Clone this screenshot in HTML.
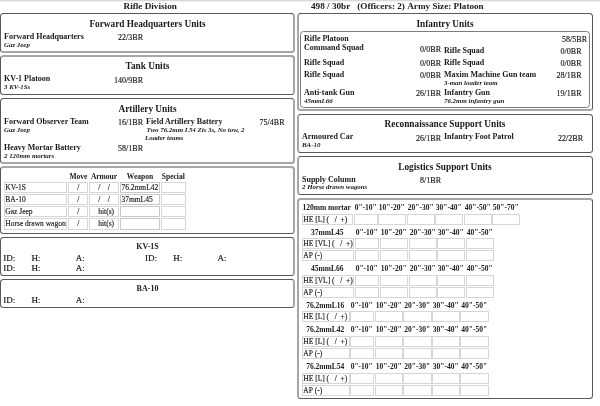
<!DOCTYPE html>
<html><head><meta charset="utf-8"><title>Rifle Division</title><style>
html,body{margin:0;padding:0;background:#fff;}
body{width:600px;height:406px;overflow:hidden;position:relative;font-family:"Liberation Serif","Times New Roman",serif;color:#1a1a1a;}
.t{position:absolute;line-height:1;white-space:nowrap;}
#w{position:absolute;left:0;top:0;width:600px;height:406px;}
.b{position:absolute;box-sizing:border-box;}
.c{position:absolute;box-sizing:border-box;border:1px solid #d6d6d6;}
</style></head>
<body><div id="w">
<div style="position:absolute;left:0;top:0;width:600px;height:1px;background:#d9d9d9"></div>
<div style="position:absolute;left:0;top:1px;width:600px;height:1px;background:#f2f2f2"></div>
<div class="t" style="top:2px;font-size:9.2px;font-weight:bold;left:123.5px;">Rifle Division</div>
<div class="t" style="top:2px;font-size:9.2px;font-weight:bold;left:311px;">498&nbsp;/&nbsp;30br&nbsp;&nbsp;&nbsp;(Officers:&nbsp;2)&nbsp;Army&nbsp;Size:&nbsp;Platoon</div>
<div class="b" style="left:0px;top:13px;width:295px;height:40px;border-top:1px solid #595959;border-right:2px solid #a6a6a6;border-bottom:2px solid #a6a6a6;border-left:1px solid #595959;border-radius:3.5px"></div>
<div class="t" style="top:20px;font-size:9.3px;font-weight:bold;left:-2.5px;width:300px;text-align:center;">Forward Headquarters Units</div>
<div class="t" style="top:33px;font-size:8px;font-weight:bold;left:4px;">Forward Headquarters</div>
<div class="t" style="top:34px;font-size:8px;-webkit-text-stroke:0.15px currentColor;right:457px;text-align:right;">22/3BR</div>
<div class="t" style="top:42px;font-size:6.9px;font-weight:bold;font-style:italic;left:4px;">Gaz Jeep</div>
<div class="b" style="left:0px;top:55px;width:295px;height:40px;border-top:2px solid #a6a6a6;border-right:2px solid #a6a6a6;border-bottom:1px solid #595959;border-left:1px solid #595959;border-radius:3.5px"></div>
<div class="t" style="top:62px;font-size:9.3px;font-weight:bold;left:-2.5px;width:300px;text-align:center;">Tank Units</div>
<div class="t" style="top:75px;font-size:8px;font-weight:bold;left:4px;">KV-1 Platoon</div>
<div class="t" style="top:77px;font-size:8px;-webkit-text-stroke:0.15px currentColor;right:457px;text-align:right;">140/9BR</div>
<div class="t" style="top:84px;font-size:6.9px;font-weight:bold;font-style:italic;left:4px;">3 KV-1Ss</div>
<div class="b" style="left:0px;top:98px;width:295px;height:66px;border-top:1px solid #595959;border-right:2px solid #a6a6a6;border-bottom:2px solid #a6a6a6;border-left:1px solid #595959;border-radius:3.5px"></div>
<div class="t" style="top:105px;font-size:9.3px;font-weight:bold;left:-2.5px;width:300px;text-align:center;">Artillery Units</div>
<div class="t" style="top:118px;font-size:8px;font-weight:bold;left:4px;">Forward Observer Team</div>
<div class="t" style="top:119px;font-size:8px;-webkit-text-stroke:0.15px currentColor;right:457px;text-align:right;">16/1BR</div>
<div class="t" style="top:127px;font-size:6.9px;font-weight:bold;font-style:italic;left:4px;">Gaz Jeep</div>
<div class="t" style="top:144px;font-size:8px;font-weight:bold;left:4px;">Heavy Mortar Battery</div>
<div class="t" style="top:145px;font-size:8px;-webkit-text-stroke:0.15px currentColor;right:457px;text-align:right;">58/1BR</div>
<div class="t" style="top:153px;font-size:6.9px;font-weight:bold;font-style:italic;left:4px;">2 120mm mortars</div>
<div class="t" style="top:118px;font-size:8px;font-weight:bold;left:146px;">Field Artillery Battery</div>
<div class="t" style="top:119px;font-size:8px;-webkit-text-stroke:0.15px currentColor;right:315.5px;text-align:right;">75/4BR</div>
<div class="t" style="top:127px;font-size:6.9px;font-weight:bold;font-style:italic;left:146.5px;">Two 76.2mm L54 Zis 3s, No tow, 2</div>
<div class="t" style="top:135px;font-size:6.9px;font-weight:bold;font-style:italic;left:145px;">Loader teams</div>
<div class="b" style="left:0px;top:166px;width:295px;height:68px;border-top:2px solid #a6a6a6;border-right:2px solid #a6a6a6;border-bottom:1px solid #595959;border-left:1px solid #595959;border-radius:3.5px"></div>
<div class="t" style="top:173px;font-size:7.5px;font-weight:bold;left:-71.6px;width:300px;text-align:center;">Move</div>
<div class="t" style="top:173px;font-size:7.5px;font-weight:bold;left:-46px;width:300px;text-align:center;">Armour</div>
<div class="t" style="top:173px;font-size:7.5px;font-weight:bold;left:-10px;width:300px;text-align:center;">Weapon</div>
<div class="t" style="top:173px;font-size:7.5px;font-weight:bold;left:23.30000000000001px;width:300px;text-align:center;">Special</div>
<div class="c" style="left:4px;top:182px;width:63px;height:11px;border-color:#d6d6d6"></div>
<div class="c" style="left:68px;top:182px;width:20px;height:11px;border-color:#d6d6d6"></div>
<div class="c" style="left:89px;top:182px;width:30px;height:11px;border-color:#d6d6d6"></div>
<div class="c" style="left:120px;top:182px;width:40px;height:11px;border-color:#c8c8c8"></div>
<div class="c" style="left:161px;top:182px;width:25px;height:11px;border-color:#d6d6d6"></div>
<div class="t" style="top:184px;font-size:7.5px;-webkit-text-stroke:0.15px currentColor;left:5.3px;">KV-1S</div>
<div class="t" style="top:184px;font-size:7.5px;-webkit-text-stroke:0.15px currentColor;left:-71.6px;width:300px;text-align:center;">/</div>
<div class="t" style="top:184px;font-size:7.5px;-webkit-text-stroke:0.15px currentColor;left:-46px;width:300px;text-align:center;">/&nbsp;&nbsp;&nbsp;&nbsp;/</div>
<div class="t" style="top:184px;font-size:7.5px;-webkit-text-stroke:0.15px currentColor;left:121.4px;">76.2mmL42</div>
<div class="c" style="left:4px;top:194px;width:63px;height:11px;border-color:#d6d6d6"></div>
<div class="c" style="left:68px;top:194px;width:20px;height:11px;border-color:#d6d6d6"></div>
<div class="c" style="left:89px;top:194px;width:30px;height:11px;border-color:#d6d6d6"></div>
<div class="c" style="left:120px;top:194px;width:40px;height:11px;border-color:#c8c8c8"></div>
<div class="c" style="left:161px;top:194px;width:25px;height:11px;border-color:#d6d6d6"></div>
<div class="t" style="top:196px;font-size:7.5px;-webkit-text-stroke:0.15px currentColor;left:5.3px;">BA-10</div>
<div class="t" style="top:196px;font-size:7.5px;-webkit-text-stroke:0.15px currentColor;left:-71.6px;width:300px;text-align:center;">/</div>
<div class="t" style="top:196px;font-size:7.5px;-webkit-text-stroke:0.15px currentColor;left:-46px;width:300px;text-align:center;">/&nbsp;&nbsp;&nbsp;&nbsp;/</div>
<div class="t" style="top:196px;font-size:7.5px;-webkit-text-stroke:0.15px currentColor;left:121.4px;">37mmL45</div>
<div class="c" style="left:4px;top:206px;width:63px;height:11px;border-color:#d6d6d6"></div>
<div class="c" style="left:68px;top:206px;width:20px;height:11px;border-color:#d6d6d6"></div>
<div class="c" style="left:89px;top:206px;width:30px;height:11px;border-color:#d6d6d6"></div>
<div class="c" style="left:120px;top:206px;width:40px;height:11px;border-color:#c8c8c8"></div>
<div class="c" style="left:161px;top:206px;width:25px;height:11px;border-color:#d6d6d6"></div>
<div class="t" style="top:208px;font-size:7.5px;-webkit-text-stroke:0.15px currentColor;left:5.3px;">Gaz Jeep</div>
<div class="t" style="top:208px;font-size:7.5px;-webkit-text-stroke:0.15px currentColor;left:-71.6px;width:300px;text-align:center;">/</div>
<div class="t" style="top:208px;font-size:7.5px;-webkit-text-stroke:0.15px currentColor;left:-43.8px;width:300px;text-align:center;">hit(s)</div>
<div class="c" style="left:4px;top:218px;width:63px;height:12px;border-color:#d6d6d6"></div>
<div class="c" style="left:68px;top:218px;width:20px;height:12px;border-color:#d6d6d6"></div>
<div class="c" style="left:89px;top:218px;width:30px;height:12px;border-color:#d6d6d6"></div>
<div class="c" style="left:120px;top:218px;width:40px;height:12px;border-color:#c8c8c8"></div>
<div class="c" style="left:161px;top:218px;width:25px;height:12px;border-color:#d6d6d6"></div>
<div class="t" style="top:220px;font-size:7.5px;-webkit-text-stroke:0.15px currentColor;left:5.3px;">Horse drawn wagon</div>
<div class="t" style="top:220px;font-size:7.5px;-webkit-text-stroke:0.15px currentColor;left:-71.6px;width:300px;text-align:center;">/</div>
<div class="t" style="top:220px;font-size:7.5px;-webkit-text-stroke:0.15px currentColor;left:-43.8px;width:300px;text-align:center;">hit(s)</div>
<div class="b" style="left:0px;top:237px;width:295px;height:39px;border-top:1px solid #595959;border-right:2px solid #a6a6a6;border-bottom:1px solid #595959;border-left:1px solid #595959;border-radius:3.5px"></div>
<div class="t" style="top:243px;font-size:8px;font-weight:bold;left:-2.5px;width:300px;text-align:center;">KV-1S</div>
<div class="t" style="top:254px;font-size:9px;-webkit-text-stroke:0.2px currentColor;left:3.3px;">ID:</div>
<div class="t" style="top:254px;font-size:9px;-webkit-text-stroke:0.2px currentColor;left:31.5px;">H:</div>
<div class="t" style="top:254px;font-size:9px;-webkit-text-stroke:0.2px currentColor;left:75.7px;">A:</div>
<div class="t" style="top:254px;font-size:9px;-webkit-text-stroke:0.2px currentColor;left:145px;">ID:</div>
<div class="t" style="top:254px;font-size:9px;-webkit-text-stroke:0.2px currentColor;left:173.2px;">H:</div>
<div class="t" style="top:254px;font-size:9px;-webkit-text-stroke:0.2px currentColor;left:217.4px;">A:</div>
<div class="t" style="top:264px;font-size:9px;-webkit-text-stroke:0.2px currentColor;left:3.3px;">ID:</div>
<div class="t" style="top:264px;font-size:9px;-webkit-text-stroke:0.2px currentColor;left:31.5px;">H:</div>
<div class="t" style="top:264px;font-size:9px;-webkit-text-stroke:0.2px currentColor;left:75.7px;">A:</div>
<div class="b" style="left:0px;top:279px;width:295px;height:29px;border-top:1px solid #595959;border-right:2px solid #a6a6a6;border-bottom:1px solid #595959;border-left:1px solid #595959;border-radius:3.5px"></div>
<div class="t" style="top:285px;font-size:8px;font-weight:bold;left:-2.5px;width:300px;text-align:center;">BA-10</div>
<div class="t" style="top:296px;font-size:9px;-webkit-text-stroke:0.2px currentColor;left:3.3px;">ID:</div>
<div class="t" style="top:296px;font-size:9px;-webkit-text-stroke:0.2px currentColor;left:31.5px;">H:</div>
<div class="t" style="top:296px;font-size:9px;-webkit-text-stroke:0.2px currentColor;left:75.7px;">A:</div>
<div class="b" style="left:297px;top:13px;width:296px;height:98px;border-top:1px solid #595959;border-right:1px solid #595959;border-bottom:2px solid #a6a6a6;border-left:2px solid #a6a6a6;border-radius:3.5px"></div>
<div class="t" style="top:20px;font-size:9.3px;font-weight:bold;left:295px;width:300px;text-align:center;">Infantry Units</div>
<div class="b" style="left:300px;top:31px;width:290px;height:77px;border-top:1px solid #7c7c7c;border-right:1px solid #7c7c7c;border-bottom:1px solid #7c7c7c;border-left:1px solid #7c7c7c;border-radius:3.5px"></div>
<div class="t" style="top:35px;font-size:8px;font-weight:bold;left:304px;">Rifle Platoon</div>
<div class="t" style="top:36px;font-size:8px;-webkit-text-stroke:0.15px currentColor;right:13px;text-align:right;">58/5BR</div>
<div class="t" style="top:44px;font-size:8px;font-weight:bold;left:304px;">Command Squad</div>
<div class="t" style="top:46px;font-size:8px;-webkit-text-stroke:0.15px currentColor;right:159px;text-align:right;">0/0BR</div>
<div class="t" style="top:59px;font-size:8px;font-weight:bold;left:304px;">Rifle Squad</div>
<div class="t" style="top:60px;font-size:8px;-webkit-text-stroke:0.15px currentColor;right:159px;text-align:right;">0/0BR</div>
<div class="t" style="top:71px;font-size:8px;font-weight:bold;left:304px;">Rifle Squad</div>
<div class="t" style="top:72px;font-size:8px;-webkit-text-stroke:0.15px currentColor;right:159px;text-align:right;">0/0BR</div>
<div class="t" style="top:89px;font-size:8px;font-weight:bold;left:304px;">Anti-tank Gun</div>
<div class="t" style="top:90px;font-size:8px;-webkit-text-stroke:0.15px currentColor;right:159px;text-align:right;">26/1BR</div>
<div class="t" style="top:98px;font-size:6.9px;font-weight:bold;font-style:italic;left:304px;">45mmL66</div>
<div class="t" style="top:47px;font-size:8px;font-weight:bold;left:444px;">Rifle Squad</div>
<div class="t" style="top:48px;font-size:8px;-webkit-text-stroke:0.15px currentColor;right:18.5px;text-align:right;">0/0BR</div>
<div class="t" style="top:59px;font-size:8px;font-weight:bold;left:444px;">Rifle Squad</div>
<div class="t" style="top:60px;font-size:8px;-webkit-text-stroke:0.15px currentColor;right:18.5px;text-align:right;">0/0BR</div>
<div class="t" style="top:71px;font-size:8px;font-weight:bold;left:444px;">Maxim Machine Gun team</div>
<div class="t" style="top:72px;font-size:8px;-webkit-text-stroke:0.15px currentColor;right:18.5px;text-align:right;">28/1BR</div>
<div class="t" style="top:80px;font-size:6.9px;font-weight:bold;font-style:italic;left:444px;">3-man loader team</div>
<div class="t" style="top:89px;font-size:8px;font-weight:bold;left:444px;">Infantry Gun</div>
<div class="t" style="top:90px;font-size:8px;-webkit-text-stroke:0.15px currentColor;right:18.5px;text-align:right;">19/1BR</div>
<div class="t" style="top:98px;font-size:6.9px;font-weight:bold;font-style:italic;left:444px;">76.2mm infantry gun</div>
<div class="b" style="left:297px;top:114px;width:296px;height:39px;border-top:1px solid #595959;border-right:1px solid #595959;border-bottom:1px solid #595959;border-left:2px solid #a6a6a6;border-radius:3.5px"></div>
<div class="t" style="top:120px;font-size:9.3px;font-weight:bold;left:295px;width:300px;text-align:center;">Reconnaissance Support Units</div>
<div class="t" style="top:133px;font-size:8px;font-weight:bold;left:302px;">Armoured Car</div>
<div class="t" style="top:135px;font-size:8px;-webkit-text-stroke:0.15px currentColor;right:159px;text-align:right;">26/1BR</div>
<div class="t" style="top:142px;font-size:6.9px;font-weight:bold;font-style:italic;left:302px;">BA-10</div>
<div class="t" style="top:133px;font-size:8px;font-weight:bold;left:444px;">Infantry Foot Patrol</div>
<div class="t" style="top:135px;font-size:8px;-webkit-text-stroke:0.15px currentColor;right:17px;text-align:right;">22/2BR</div>
<div class="b" style="left:297px;top:156px;width:296px;height:39px;border-top:1px solid #595959;border-right:1px solid #595959;border-bottom:1px solid #595959;border-left:2px solid #a6a6a6;border-radius:3.5px"></div>
<div class="t" style="top:163px;font-size:9.3px;font-weight:bold;left:295px;width:300px;text-align:center;">Logistics Support Units</div>
<div class="t" style="top:176px;font-size:8px;font-weight:bold;left:302px;">Supply Column</div>
<div class="t" style="top:177px;font-size:8px;-webkit-text-stroke:0.15px currentColor;right:159px;text-align:right;">8/1BR</div>
<div class="t" style="top:184px;font-size:6.9px;font-weight:bold;font-style:italic;left:302px;">2 Horse drawn wagons</div>
<div class="b" style="left:297px;top:198px;width:296px;height:201px;border-top:2px solid #a6a6a6;border-right:1px solid #595959;border-bottom:1px solid #595959;border-left:2px solid #a6a6a6;border-radius:3.5px"></div>
<div class="t" style="top:204px;font-size:7.5px;font-weight:bold;left:176.7px;width:300px;text-align:center;">120mm mortar</div>
<div class="t" style="top:204px;font-size:7.5px;font-weight:bold;left:215.7px;width:300px;text-align:center;">0&quot;-10&quot;</div>
<div class="t" style="top:204px;font-size:7.5px;font-weight:bold;left:241.7px;width:300px;text-align:center;">10&quot;-20&quot;</div>
<div class="t" style="top:204px;font-size:7.5px;font-weight:bold;left:270.7px;width:300px;text-align:center;">20&quot;-30&quot;</div>
<div class="t" style="top:204px;font-size:7.5px;font-weight:bold;left:298.7px;width:300px;text-align:center;">30&quot;-40&quot;</div>
<div class="t" style="top:204px;font-size:7.5px;font-weight:bold;left:327.7px;width:300px;text-align:center;">40&quot;-50&quot;</div>
<div class="t" style="top:204px;font-size:7.5px;font-weight:bold;left:355.7px;width:300px;text-align:center;">50&quot;-70&quot;</div>
<div class="c" style="left:302px;top:214px;width:51px;height:11px;border-color:#d6d6d6"></div>
<div class="c" style="left:354px;top:214px;width:24px;height:11px;border-color:#d6d6d6"></div>
<div class="c" style="left:378px;top:214px;width:28px;height:11px;border-color:#d6d6d6"></div>
<div class="c" style="left:407px;top:214px;width:28px;height:11px;border-color:#d6d6d6"></div>
<div class="c" style="left:435px;top:214px;width:28px;height:11px;border-color:#d6d6d6"></div>
<div class="c" style="left:464px;top:214px;width:28px;height:11px;border-color:#d6d6d6"></div>
<div class="c" style="left:492px;top:214px;width:28px;height:11px;border-color:#d6d6d6"></div>
<div class="t" style="top:216px;font-size:7.5px;-webkit-text-stroke:0.15px currentColor;left:303.3px;">HE&nbsp;[L]&nbsp;(&nbsp;&nbsp;&nbsp;/&nbsp;&nbsp;+)</div>
<div class="t" style="top:229px;font-size:7.5px;font-weight:bold;left:177.2px;width:300px;text-align:center;">37mmL45</div>
<div class="t" style="top:229px;font-size:7.5px;font-weight:bold;left:216.7px;width:300px;text-align:center;">0&quot;-10&quot;</div>
<div class="t" style="top:229px;font-size:7.5px;font-weight:bold;left:243.7px;width:300px;text-align:center;">10&quot;-20&quot;</div>
<div class="t" style="top:229px;font-size:7.5px;font-weight:bold;left:272.7px;width:300px;text-align:center;">20&quot;-30&quot;</div>
<div class="t" style="top:229px;font-size:7.5px;font-weight:bold;left:300.7px;width:300px;text-align:center;">30&quot;-40&quot;</div>
<div class="t" style="top:229px;font-size:7.5px;font-weight:bold;left:329.7px;width:300px;text-align:center;">40&quot;-50&quot;</div>
<div class="c" style="left:302px;top:238px;width:52px;height:11px;border-color:#d6d6d6"></div>
<div class="c" style="left:355px;top:238px;width:24px;height:11px;border-color:#d6d6d6"></div>
<div class="c" style="left:380px;top:238px;width:28px;height:11px;border-color:#d6d6d6"></div>
<div class="c" style="left:409px;top:238px;width:28px;height:11px;border-color:#d6d6d6"></div>
<div class="c" style="left:437px;top:238px;width:28px;height:11px;border-color:#d6d6d6"></div>
<div class="c" style="left:466px;top:238px;width:28px;height:11px;border-color:#d6d6d6"></div>
<div class="t" style="top:240px;font-size:7.5px;-webkit-text-stroke:0.15px currentColor;left:303.3px;">HE&nbsp;[VL]&nbsp;(&nbsp;&nbsp;&nbsp;/&nbsp;&nbsp;+)</div>
<div class="c" style="left:302px;top:250px;width:52px;height:11px;border-color:#d6d6d6"></div>
<div class="c" style="left:355px;top:250px;width:24px;height:11px;border-color:#d6d6d6"></div>
<div class="c" style="left:380px;top:250px;width:28px;height:11px;border-color:#d6d6d6"></div>
<div class="c" style="left:409px;top:250px;width:28px;height:11px;border-color:#d6d6d6"></div>
<div class="c" style="left:437px;top:250px;width:28px;height:11px;border-color:#d6d6d6"></div>
<div class="c" style="left:466px;top:250px;width:28px;height:11px;border-color:#d6d6d6"></div>
<div class="t" style="top:252px;font-size:7.5px;-webkit-text-stroke:0.15px currentColor;left:303.3px;">AP&nbsp;(-)</div>
<div class="t" style="top:265px;font-size:7.5px;font-weight:bold;left:177.2px;width:300px;text-align:center;">45mmL66</div>
<div class="t" style="top:265px;font-size:7.5px;font-weight:bold;left:216.7px;width:300px;text-align:center;">0&quot;-10&quot;</div>
<div class="t" style="top:265px;font-size:7.5px;font-weight:bold;left:243.7px;width:300px;text-align:center;">10&quot;-20&quot;</div>
<div class="t" style="top:265px;font-size:7.5px;font-weight:bold;left:272.7px;width:300px;text-align:center;">20&quot;-30&quot;</div>
<div class="t" style="top:265px;font-size:7.5px;font-weight:bold;left:300.7px;width:300px;text-align:center;">30&quot;-40&quot;</div>
<div class="t" style="top:265px;font-size:7.5px;font-weight:bold;left:329.7px;width:300px;text-align:center;">40&quot;-50&quot;</div>
<div class="c" style="left:302px;top:275px;width:52px;height:11px;border-color:#d6d6d6"></div>
<div class="c" style="left:355px;top:275px;width:24px;height:11px;border-color:#d6d6d6"></div>
<div class="c" style="left:380px;top:275px;width:28px;height:11px;border-color:#d6d6d6"></div>
<div class="c" style="left:409px;top:275px;width:28px;height:11px;border-color:#d6d6d6"></div>
<div class="c" style="left:437px;top:275px;width:28px;height:11px;border-color:#d6d6d6"></div>
<div class="c" style="left:466px;top:275px;width:28px;height:11px;border-color:#d6d6d6"></div>
<div class="t" style="top:277px;font-size:7.5px;-webkit-text-stroke:0.15px currentColor;left:303.3px;">HE&nbsp;[VL]&nbsp;(&nbsp;&nbsp;&nbsp;/&nbsp;&nbsp;+)</div>
<div class="c" style="left:302px;top:287px;width:52px;height:11px;border-color:#d6d6d6"></div>
<div class="c" style="left:355px;top:287px;width:24px;height:11px;border-color:#d6d6d6"></div>
<div class="c" style="left:380px;top:287px;width:28px;height:11px;border-color:#d6d6d6"></div>
<div class="c" style="left:409px;top:287px;width:28px;height:11px;border-color:#d6d6d6"></div>
<div class="c" style="left:437px;top:287px;width:28px;height:11px;border-color:#d6d6d6"></div>
<div class="c" style="left:466px;top:287px;width:28px;height:11px;border-color:#d6d6d6"></div>
<div class="t" style="top:289px;font-size:7.5px;-webkit-text-stroke:0.15px currentColor;left:303.3px;">AP&nbsp;(-)</div>
<div class="t" style="top:302px;font-size:7.5px;font-weight:bold;left:175.2px;width:300px;text-align:center;">76.2mmL16</div>
<div class="t" style="top:302px;font-size:7.5px;font-weight:bold;left:211.7px;width:300px;text-align:center;">0&quot;-10&quot;</div>
<div class="t" style="top:302px;font-size:7.5px;font-weight:bold;left:238.7px;width:300px;text-align:center;">10&quot;-20&quot;</div>
<div class="t" style="top:302px;font-size:7.5px;font-weight:bold;left:267.2px;width:300px;text-align:center;">20&quot;-30&quot;</div>
<div class="t" style="top:302px;font-size:7.5px;font-weight:bold;left:295.7px;width:300px;text-align:center;">30&quot;-40&quot;</div>
<div class="t" style="top:302px;font-size:7.5px;font-weight:bold;left:324.2px;width:300px;text-align:center;">40&quot;-50&quot;</div>
<div class="c" style="left:302px;top:311px;width:48px;height:11px;border-color:#d6d6d6"></div>
<div class="c" style="left:350px;top:311px;width:24px;height:11px;border-color:#d6d6d6"></div>
<div class="c" style="left:375px;top:311px;width:28px;height:11px;border-color:#d6d6d6"></div>
<div class="c" style="left:403px;top:311px;width:29px;height:11px;border-color:#d6d6d6"></div>
<div class="c" style="left:432px;top:311px;width:28px;height:11px;border-color:#d6d6d6"></div>
<div class="c" style="left:460px;top:311px;width:29px;height:11px;border-color:#d6d6d6"></div>
<div class="t" style="top:313px;font-size:7.5px;-webkit-text-stroke:0.15px currentColor;left:303.3px;">HE&nbsp;[L]&nbsp;(&nbsp;&nbsp;&nbsp;/&nbsp;&nbsp;+)</div>
<div class="t" style="top:326px;font-size:7.5px;font-weight:bold;left:175.2px;width:300px;text-align:center;">76.2mmL42</div>
<div class="t" style="top:326px;font-size:7.5px;font-weight:bold;left:211.7px;width:300px;text-align:center;">0&quot;-10&quot;</div>
<div class="t" style="top:326px;font-size:7.5px;font-weight:bold;left:238.7px;width:300px;text-align:center;">10&quot;-20&quot;</div>
<div class="t" style="top:326px;font-size:7.5px;font-weight:bold;left:267.2px;width:300px;text-align:center;">20&quot;-30&quot;</div>
<div class="t" style="top:326px;font-size:7.5px;font-weight:bold;left:295.7px;width:300px;text-align:center;">30&quot;-40&quot;</div>
<div class="t" style="top:326px;font-size:7.5px;font-weight:bold;left:324.2px;width:300px;text-align:center;">40&quot;-50&quot;</div>
<div class="c" style="left:302px;top:336px;width:48px;height:11px;border-color:#d6d6d6"></div>
<div class="c" style="left:350px;top:336px;width:24px;height:11px;border-color:#d6d6d6"></div>
<div class="c" style="left:375px;top:336px;width:28px;height:11px;border-color:#d6d6d6"></div>
<div class="c" style="left:403px;top:336px;width:29px;height:11px;border-color:#d6d6d6"></div>
<div class="c" style="left:432px;top:336px;width:28px;height:11px;border-color:#d6d6d6"></div>
<div class="c" style="left:460px;top:336px;width:29px;height:11px;border-color:#d6d6d6"></div>
<div class="t" style="top:338px;font-size:7.5px;-webkit-text-stroke:0.15px currentColor;left:303.3px;">HE&nbsp;[L]&nbsp;(&nbsp;&nbsp;&nbsp;/&nbsp;&nbsp;+)</div>
<div class="c" style="left:302px;top:348px;width:48px;height:11px;border-color:#d6d6d6"></div>
<div class="c" style="left:350px;top:348px;width:24px;height:11px;border-color:#d6d6d6"></div>
<div class="c" style="left:375px;top:348px;width:28px;height:11px;border-color:#d6d6d6"></div>
<div class="c" style="left:403px;top:348px;width:29px;height:11px;border-color:#d6d6d6"></div>
<div class="c" style="left:432px;top:348px;width:28px;height:11px;border-color:#d6d6d6"></div>
<div class="c" style="left:460px;top:348px;width:29px;height:11px;border-color:#d6d6d6"></div>
<div class="t" style="top:350px;font-size:7.5px;-webkit-text-stroke:0.15px currentColor;left:303.3px;">AP&nbsp;(-)</div>
<div class="t" style="top:363px;font-size:7.5px;font-weight:bold;left:175.2px;width:300px;text-align:center;">76.2mmL54</div>
<div class="t" style="top:363px;font-size:7.5px;font-weight:bold;left:211.7px;width:300px;text-align:center;">0&quot;-10&quot;</div>
<div class="t" style="top:363px;font-size:7.5px;font-weight:bold;left:238.7px;width:300px;text-align:center;">10&quot;-20&quot;</div>
<div class="t" style="top:363px;font-size:7.5px;font-weight:bold;left:267.2px;width:300px;text-align:center;">20&quot;-30&quot;</div>
<div class="t" style="top:363px;font-size:7.5px;font-weight:bold;left:295.7px;width:300px;text-align:center;">30&quot;-40&quot;</div>
<div class="t" style="top:363px;font-size:7.5px;font-weight:bold;left:324.2px;width:300px;text-align:center;">40&quot;-50&quot;</div>
<div class="c" style="left:302px;top:373px;width:48px;height:11px;border-color:#d6d6d6"></div>
<div class="c" style="left:350px;top:373px;width:24px;height:11px;border-color:#d6d6d6"></div>
<div class="c" style="left:375px;top:373px;width:28px;height:11px;border-color:#d6d6d6"></div>
<div class="c" style="left:403px;top:373px;width:29px;height:11px;border-color:#d6d6d6"></div>
<div class="c" style="left:432px;top:373px;width:28px;height:11px;border-color:#d6d6d6"></div>
<div class="c" style="left:460px;top:373px;width:29px;height:11px;border-color:#d6d6d6"></div>
<div class="t" style="top:375px;font-size:7.5px;-webkit-text-stroke:0.15px currentColor;left:303.3px;">HE&nbsp;[L]&nbsp;(&nbsp;&nbsp;&nbsp;/&nbsp;&nbsp;+)</div>
<div class="c" style="left:302px;top:385px;width:48px;height:11px;border-color:#d6d6d6"></div>
<div class="c" style="left:350px;top:385px;width:24px;height:11px;border-color:#d6d6d6"></div>
<div class="c" style="left:375px;top:385px;width:28px;height:11px;border-color:#d6d6d6"></div>
<div class="c" style="left:403px;top:385px;width:29px;height:11px;border-color:#d6d6d6"></div>
<div class="c" style="left:432px;top:385px;width:28px;height:11px;border-color:#d6d6d6"></div>
<div class="c" style="left:460px;top:385px;width:29px;height:11px;border-color:#d6d6d6"></div>
<div class="t" style="top:387px;font-size:7.5px;-webkit-text-stroke:0.15px currentColor;left:303.3px;">AP&nbsp;(-)</div>
</div></body></html>
